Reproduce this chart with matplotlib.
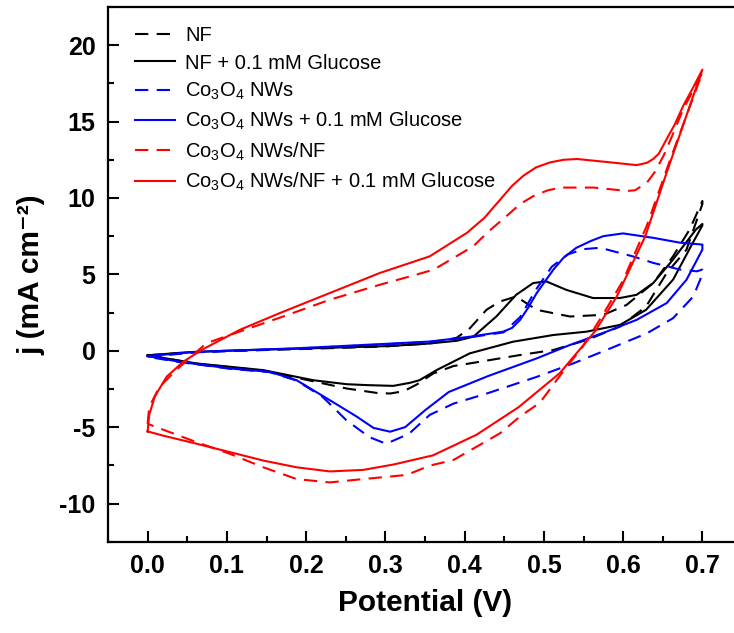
import matplotlib
matplotlib.use("Agg")
import matplotlib.pyplot as plt
from matplotlib.ticker import MultipleLocator

plt.rcParams['font.family'] = ['Liberation Sans', 'DejaVu Sans']
plt.rcParams['mathtext.default'] = 'regular'
plt.rcParams['font.weight'] = 'bold'
plt.rcParams['axes.unicode_minus'] = False

# CV loops: forward (anodic) branch then reverse branch
nf_fx = [0.0, 0.05, 0.1, 0.2, 0.3, 0.36, 0.39, 0.4066, 0.4276, 0.4444, 0.465, 0.4907, 0.533, 0.575, 0.6044, 0.638, 0.663, 0.684, 0.70]
nf_fy = [-0.3, -0.12, -0.02, 0.12, 0.28, 0.5, 0.85, 1.47, 2.68, 3.22, 3.55, 2.68, 2.24, 2.35, 3.0, 4.43, 6.18, 7.94, 9.8]
nf_rx = [0.70, 0.68, 0.655, 0.629, 0.596, 0.554, 0.512, 0.47, 0.4066, 0.386, 0.36, 0.34, 0.323, 0.306, 0.289, 0.251, 0.209, 0.146, 0.0615, 0.0]
nf_ry = [9.6, 6.62, 5.09, 2.9, 1.58, 0.7, 0.05, -0.28, -0.83, -1.0, -1.5, -2.2, -2.65, -2.8, -2.76, -2.47, -2.0, -1.3, -0.85, -0.3]

nfg_fx = [0.0, 0.05, 0.1, 0.2, 0.3, 0.35, 0.39, 0.411, 0.44, 0.465, 0.4865, 0.503, 0.528, 0.562, 0.596, 0.617, 0.638, 0.663, 0.692, 0.70]
nfg_fy = [-0.3, -0.1, 0.0, 0.15, 0.3, 0.45, 0.65, 0.92, 2.24, 3.66, 4.43, 4.54, 3.99, 3.45, 3.45, 3.66, 4.43, 5.97, 7.94, 8.3]
nfg_rx = [0.70, 0.688, 0.663, 0.629, 0.596, 0.554, 0.512, 0.461, 0.4066, 0.3645, 0.343, 0.331, 0.31, 0.2765, 0.251, 0.209, 0.146, 0.0615, 0.0]
nfg_ry = [8.2, 7.07, 4.65, 2.68, 1.69, 1.25, 1.03, 0.59, -0.17, -1.27, -1.93, -2.1, -2.3, -2.25, -2.19, -1.93, -1.27, -0.83, -0.3]

nw_fx = [0.0, 0.062, 0.188, 0.30, 0.356, 0.407, 0.449, 0.47, 0.49, 0.51, 0.53, 0.55, 0.571, 0.612, 0.638, 0.672, 0.693, 0.70]
nw_fy = [-0.4, -0.1, 0.14, 0.42, 0.58, 0.88, 1.2, 2.2, 4.0, 5.5, 6.3, 6.65, 6.74, 6.18, 5.75, 5.31, 5.2, 5.31]
nw_rx = [0.70, 0.6885, 0.663, 0.63, 0.579, 0.537, 0.491, 0.428, 0.386, 0.356, 0.34, 0.33, 0.301, 0.28, 0.251, 0.221, 0.188, 0.154, 0.104, 0.04, 0.0]
nw_ry = [5.0, 3.55, 2.13, 1.14, 0.05, -0.83, -1.71, -2.8, -3.46, -4.2, -4.95, -5.43, -6.09, -5.66, -4.56, -3.03, -1.95, -1.4, -1.18, -0.74, -0.4]

nwg_fx = [0.0, 0.062, 0.188, 0.30, 0.356, 0.407, 0.449, 0.46, 0.47, 0.48, 0.491, 0.512, 0.525, 0.541, 0.56, 0.575, 0.60, 0.638, 0.672, 0.70]
nwg_fy = [-0.35, -0.07, 0.16, 0.45, 0.6, 0.92, 1.25, 1.5, 2.02, 2.8, 3.78, 5.31, 6.1, 6.74, 7.2, 7.5, 7.68, 7.39, 7.07, 6.95]
nwg_rx = [0.70, 0.68, 0.655, 0.617, 0.579, 0.533, 0.491, 0.43, 0.38, 0.35, 0.325, 0.306, 0.285, 0.2635, 0.23, 0.188, 0.154, 0.1035, 0.04, 0.0]
nwg_ry = [6.62, 4.65, 3.12, 2.02, 1.25, 0.38, -0.5, -1.65, -2.7, -3.9, -5.0, -5.3, -5.05, -4.3, -3.24, -1.93, -1.38, -1.16, -0.72, -0.35]

nwnf_fx = [0.0, 0.002, 0.015, 0.036, 0.074, 0.116, 0.171, 0.23, 0.293, 0.339, 0.361, 0.411, 0.43, 0.453, 0.47, 0.487, 0.505, 0.521, 0.563, 0.605, 0.615, 0.63, 0.64, 0.651, 0.663, 0.676, 0.688, 0.70]
nwnf_fy = [-4.78, -3.68, -2.37, -1.27, 0.49, 1.25, 2.24, 3.34, 4.32, 4.98, 5.31, 6.84, 7.8, 8.82, 9.6, 10.13, 10.5, 10.68, 10.68, 10.46, 10.5, 11.0, 11.7, 12.76, 14.2, 15.84, 17.0, 18.2]
nwnf_rx = [0.70, 0.66, 0.63, 0.60, 0.575, 0.549, 0.528, 0.495, 0.47, 0.445, 0.386, 0.356, 0.327, 0.272, 0.23, 0.188, 0.146, 0.104, 0.062, 0.011, 0.0]
nwnf_ry = [18.2, 12.6, 8.2, 4.6, 2.4, 0.26, -1.1, -3.4, -4.3, -5.39, -7.15, -7.52, -8.13, -8.4, -8.62, -8.4, -7.63, -6.75, -5.99, -5.0, -4.78]

nwnfg_fx = [0.0, 0.002, 0.009, 0.024, 0.045, 0.068, 0.116, 0.167, 0.23, 0.293, 0.356, 0.403, 0.425, 0.445, 0.46, 0.474, 0.49, 0.508, 0.525, 0.542, 0.584, 0.617, 0.63, 0.638, 0.645, 0.655, 0.665, 0.676, 0.688, 0.70]
nwnfg_fy = [-5.28, -4.2, -3.0, -1.7, -0.72, 0.05, 1.36, 2.47, 3.78, 5.09, 6.18, 7.72, 8.7, 9.9, 10.8, 11.45, 12.0, 12.33, 12.5, 12.55, 12.33, 12.15, 12.3, 12.55, 12.9, 13.86, 14.8, 16.05, 17.2, 18.4]
nwnfg_rx = [0.70, 0.655, 0.628, 0.592, 0.565, 0.52, 0.468, 0.415, 0.36, 0.31, 0.272, 0.23, 0.188, 0.146, 0.104, 0.062, 0.019, 0.0]
nwnfg_ry = [18.4, 11.67, 7.5, 3.55, 1.3, -1.47, -3.7, -5.5, -6.85, -7.45, -7.8, -7.9, -7.63, -7.19, -6.64, -6.09, -5.55, -5.28]

labels = ['NF', 'NF + 0.1 mM Glucose', 'Co$_3$O$_4$ NWs', 'Co$_3$O$_4$ NWs + 0.1 mM Glucose',
          'Co$_3$O$_4$ NWs/NF', 'Co$_3$O$_4$ NWs/NF + 0.1 mM Glucose']

curves = [
    (nf_fx, nf_fy, nf_rx, nf_ry, 'black', '--'),
    (nfg_fx, nfg_fy, nfg_rx, nfg_ry, 'black', '-'),
    (nw_fx, nw_fy, nw_rx, nw_ry, '#0000ff', '--'),
    (nwg_fx, nwg_fy, nwg_rx, nwg_ry, '#0000ff', '-'),
    (nwnf_fx, nwnf_fy, nwnf_rx, nwnf_ry, '#ff0000', '--'),
    (nwnfg_fx, nwnfg_fy, nwnfg_rx, nwnfg_ry, '#ff0000', '-'),
]

fig = plt.figure(figsize=(7.34, 6.33), dpi=100)
ax = fig.add_axes([108/734, 91.3/633, 634/734, 534.7/633])

for (fx, fy, rx, ry, c, ls), lab in zip(curves, labels):
    line, = ax.plot(fx + rx, fy + ry, color=c, ls=ls, lw=1.5, label=lab)
    if ls == '--':
        line.set_dashes((6.4, 4))

ax.set_xlim(-0.05, 0.75)
ax.set_ylim(-12.5, 22.5)
ax.xaxis.set_minor_locator(MultipleLocator(0.05))
ax.yaxis.set_minor_locator(MultipleLocator(2.5))
ax.set_xticks([0.0, 0.1, 0.2, 0.3, 0.4, 0.5, 0.6, 0.7])
ax.set_yticks([-10, -5, 0, 5, 10, 15, 20])
ax.tick_params(which='both', direction='in', width=1.5, top=False, right=False)
ax.tick_params(which='major', length=8, labelsize=18, pad=9)
ax.tick_params(which='minor', length=4.5)
for s in ax.spines.values():
    s.set_linewidth(1.6)

ax.set_xlabel('Potential (V)', fontsize=21.5, fontweight='bold', labelpad=8)
ax.set_ylabel('j (mA cm\u207b\u00b2)', fontsize=21.5, fontweight='bold', labelpad=10)

ax.legend(loc='upper left', bbox_to_anchor=(0.0426, 0.9636), frameon=False,
          borderpad=0, borderaxespad=0, handlelength=2.0, handletextpad=0.5,
          labelspacing=0.4, prop={'size': 14.5, 'weight': 'normal'})

fig.savefig('out.png', dpi=100)
